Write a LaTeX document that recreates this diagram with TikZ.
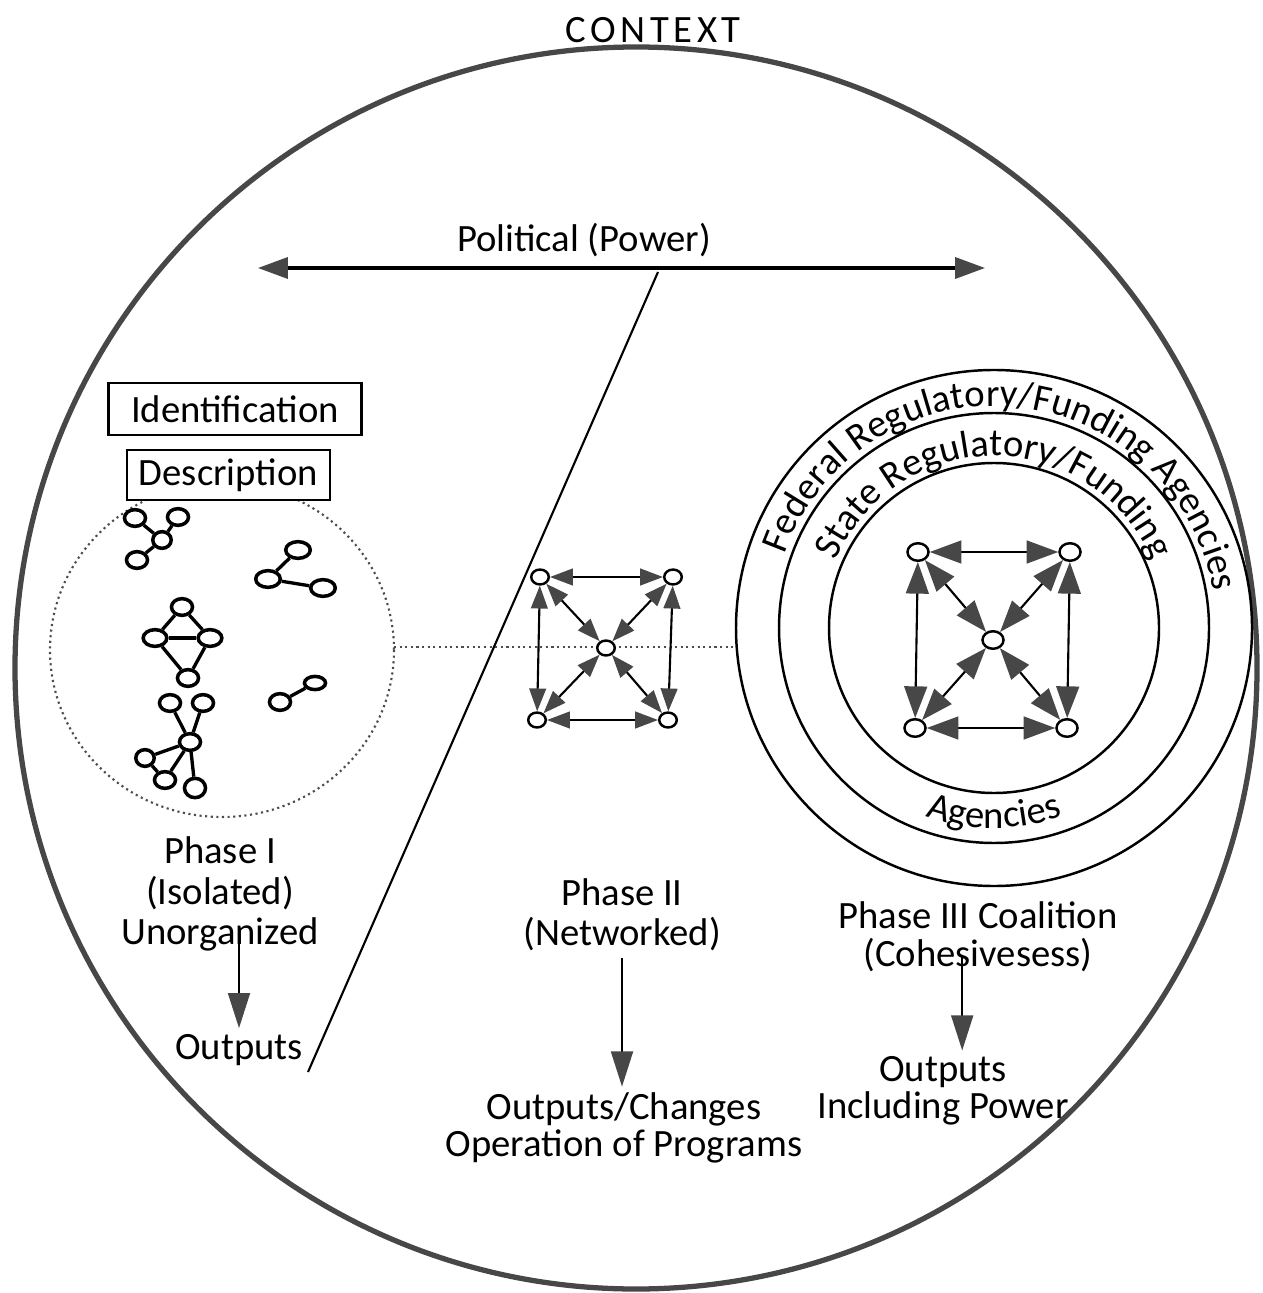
\documentclass[tikz,border=0pt]{standalone}
\usepackage{fontspec}
\setmainfont{Carlito}
\usetikzlibrary{arrows.meta,shapes.geometric,decorations.text}

\definecolor{tipgray}{gray}{0.28}
\newcommand{\ringfont}{\fontsize{22}{23}\selectfont}

\begin{document}
\begin{tikzpicture}[x=0.02cm, y=-0.02cm, font=\fontsize{22}{23}\selectfont,
  blob/.style={draw, ellipse, line width=2pt, minimum width=12pt, minimum height=9.5pt, inner sep=0pt, fill=white},
  tie/.style={line width=1.9pt},
  hub/.style={draw, ellipse, line width=1.4pt, minimum width=10pt, minimum height=8.5pt, inner sep=0pt, fill=white},
  bighub/.style={hub, minimum width=12pt, minimum height=10pt},
  link/.style={line width=1.2pt, {Triangle[length=13pt,width=9.5pt,color=tipgray]}-{Triangle[length=13pt,width=9.5pt,color=tipgray]}},
  biglink/.style={line width=1.2pt, {Triangle[length=18pt,width=13pt,color=tipgray]}-{Triangle[length=18pt,width=13pt,color=tipgray]}},
  axis/.style={line width=1.8pt, {Triangle[length=17pt,width=12pt,color=tipgray]}-{Triangle[length=17pt,width=12pt,color=tipgray]}},
  outarrow/.style={line width=1.1pt, -{Triangle[length=20pt,width=12.5pt,color=tipgray]}},
  ring/.style={line width=1.4pt},
  boxed/.style={draw, line width=1.2pt, fill=white, inner sep=0pt},
  phasetext/.style={align=center}]
\useasboundingbox (0,0) rectangle (1262,1293);

% context circle and the political axis
\draw[line width=3pt, black!72] (636,668) circle[radius=621];
\node (context) at (653,30) {\addfontfeatures{LetterSpace=12}CONTEXT};
\node (political) at (584,240) {Political (Power)};
\coordinate (polL) at (258,268);
\coordinate (polR) at (985,268);
\draw[axis] (polL) -- (polR);
\coordinate (slashT) at (658,272);
\coordinate (slashB) at (308,1072);
\draw[line width=1.2pt] (slashT) -- (slashB);

% Phase I: isolated groups
\draw[dotted, line width=1.2pt, black!70] (222,650) ellipse [x radius=172, y radius=167];
\coordinate (cloudE) at (394,647);
\coordinate (ringW) at (738,647);
\draw[dotted, line width=1.2pt, black!70] (cloudE) -- (ringW);
\node[boxed, minimum width=144pt, minimum height=29.5pt] (ident) at (235,409) {Identification};
\node[boxed, minimum width=115.5pt, minimum height=28.5pt] (descr) at (228.5,475) {Description};

\node[blob] (ga1) at (135,518) {};
\node[blob] (ga2) at (178,517) {};
\node[blob, minimum width=10.5pt] (ga3) at (162,540) {};
\node[blob] (ga4) at (137,560) {};
\draw[tie] (ga1) -- (ga3);
\draw[tie] (ga2) -- (ga3);
\draw[tie] (ga3) -- (ga4);

\node[blob, minimum width=14pt] (gb1) at (298,550) {};
\node[blob, minimum width=14pt] (gb2) at (268,579) {};
\node[blob, minimum width=14pt] (gb3) at (323,588) {};
\draw[tie] (gb2) -- (gb1);
\draw[tie] (gb2) -- (gb3);

\node[blob] (gc1) at (182,607) {};
\node[blob, minimum width=13.5pt] (gc2) at (155,638) {};
\node[blob, minimum width=13.5pt] (gc3) at (210,638) {};
\node[blob] (gc4) at (188,678) {};
\draw[tie] (gc1) -- (gc2);
\draw[tie] (gc1) -- (gc3);
\draw[tie] (gc2) -- (gc3);
\draw[tie] (gc2) -- (gc4);
\draw[tie] (gc3) -- (gc4);

\node[blob] (gd1) at (280,702) {};
\node[blob, minimum height=7.5pt] (gd2) at (315,683) {};
\draw[tie] (gd1) -- (gd2);

\node[blob] (ge1) at (170,703) {};
\node[blob] (ge2) at (203,703) {};
\node[blob] (ge3) at (190,742) {};
\node[blob, minimum width=10.5pt] (ge4) at (145,758) {};
\node[blob] (ge5) at (165,780) {};
\node[blob, minimum height=11pt] (ge6) at (195,788) {};
\draw[tie] (ge1) -- (ge3);
\draw[tie] (ge2) -- (ge3);
\draw[tie] (ge3) -- (ge4);
\draw[tie] (ge3) -- (ge5);
\draw[tie] (ge3) -- (ge6);
\draw[tie] (ge4) -- (ge5);

\node[phasetext] (ph1) at (220,894) {Phase I\\(Isolated)\\Unorganized};
\node (out1) at (239,1050) {Outputs};
\draw[outarrow] ([yshift=10pt]ph1.south -| out1.north) -- (out1.north);

% Phase II: networked
\node[hub] (n2tl) at (540,577) {};
\node[hub] (n2tr) at (673,577) {};
\node[hub] (n2bl) at (537,720) {};
\node[hub] (n2br) at (668,720) {};
\node[hub] (n2c) at (606,648) {};
\draw[link] (n2tl) -- (n2tr);
\draw[link] (n2bl) -- (n2br);
\draw[link] (n2tl) -- (n2bl);
\draw[link] (n2tr) -- (n2br);
\draw[link] (n2tl) -- (n2c);
\draw[link] (n2tr) -- (n2c);
\draw[link] (n2bl) -- (n2c);
\draw[link] (n2br) -- (n2c);

\node[phasetext] (ph2) at (622,915) {Phase II\\(Networked)};
\node[phasetext, font=\fontsize{22}{21}\selectfont] (out2) at (624,1128) {Outputs/Changes\\Operation of Programs};
\draw[outarrow] (ph2.south) -- (ph2.south |- out2.north);

% Phase III: coalition inside the agency rings
\coordinate (rc) at (994,628);
\draw[ring] (rc) circle[radius=258];
\draw[ring] (rc) circle[radius=215];
\draw[ring] (rc) circle[radius=165];
\path[decorate, decoration={text along path, text align=center,
  text={|\ringfont|Federal Regulatory/Funding Agencies}}]
  (rc) ++(-175:222) arc[start angle=-175, end angle=5, radius=222];
\path[decorate, decoration={text along path, text align=center,
  text={|\ringfont|State Regulatory/Funding}}]
  (rc) ++(-170:172) arc[start angle=-170, end angle=-10, radius=172];
\path[decorate, decoration={text along path, text align=center,
  text={|\ringfont|Agencies}}]
  (rc) ++(130:200) arc[start angle=130, end angle=50, radius=200];

\node[bighub] (n3tl) at (918,552) {};
\node[bighub] (n3tr) at (1070,552) {};
\node[bighub] (n3bl) at (915,728) {};
\node[bighub] (n3br) at (1067,728) {};
\node[bighub] (n3c) at (993,640) {};
\draw[biglink] (n3tl) -- (n3tr);
\draw[biglink] (n3bl) -- (n3br);
\draw[biglink] (n3tl) -- (n3bl);
\draw[biglink] (n3tr) -- (n3br);
\draw[biglink] (n3tl) -- (n3c);
\draw[biglink] (n3tr) -- (n3c);
\draw[biglink] (n3bl) -- (n3c);
\draw[biglink] (n3br) -- (n3c);

\node[phasetext, font=\fontsize{22}{21.5}\selectfont] (ph3) at (978,937) {Phase III Coalition\\(Cohesivesess)};
\node[phasetext, font=\fontsize{22}{21}\selectfont] (out3) at (943,1091) {Outputs\\Including Power};
\draw[outarrow] ([xshift=-9pt,yshift=12pt]ph3.south) -- ([xshift=-9pt]ph3.south |- out3.north);
\end{tikzpicture}
\end{document}
